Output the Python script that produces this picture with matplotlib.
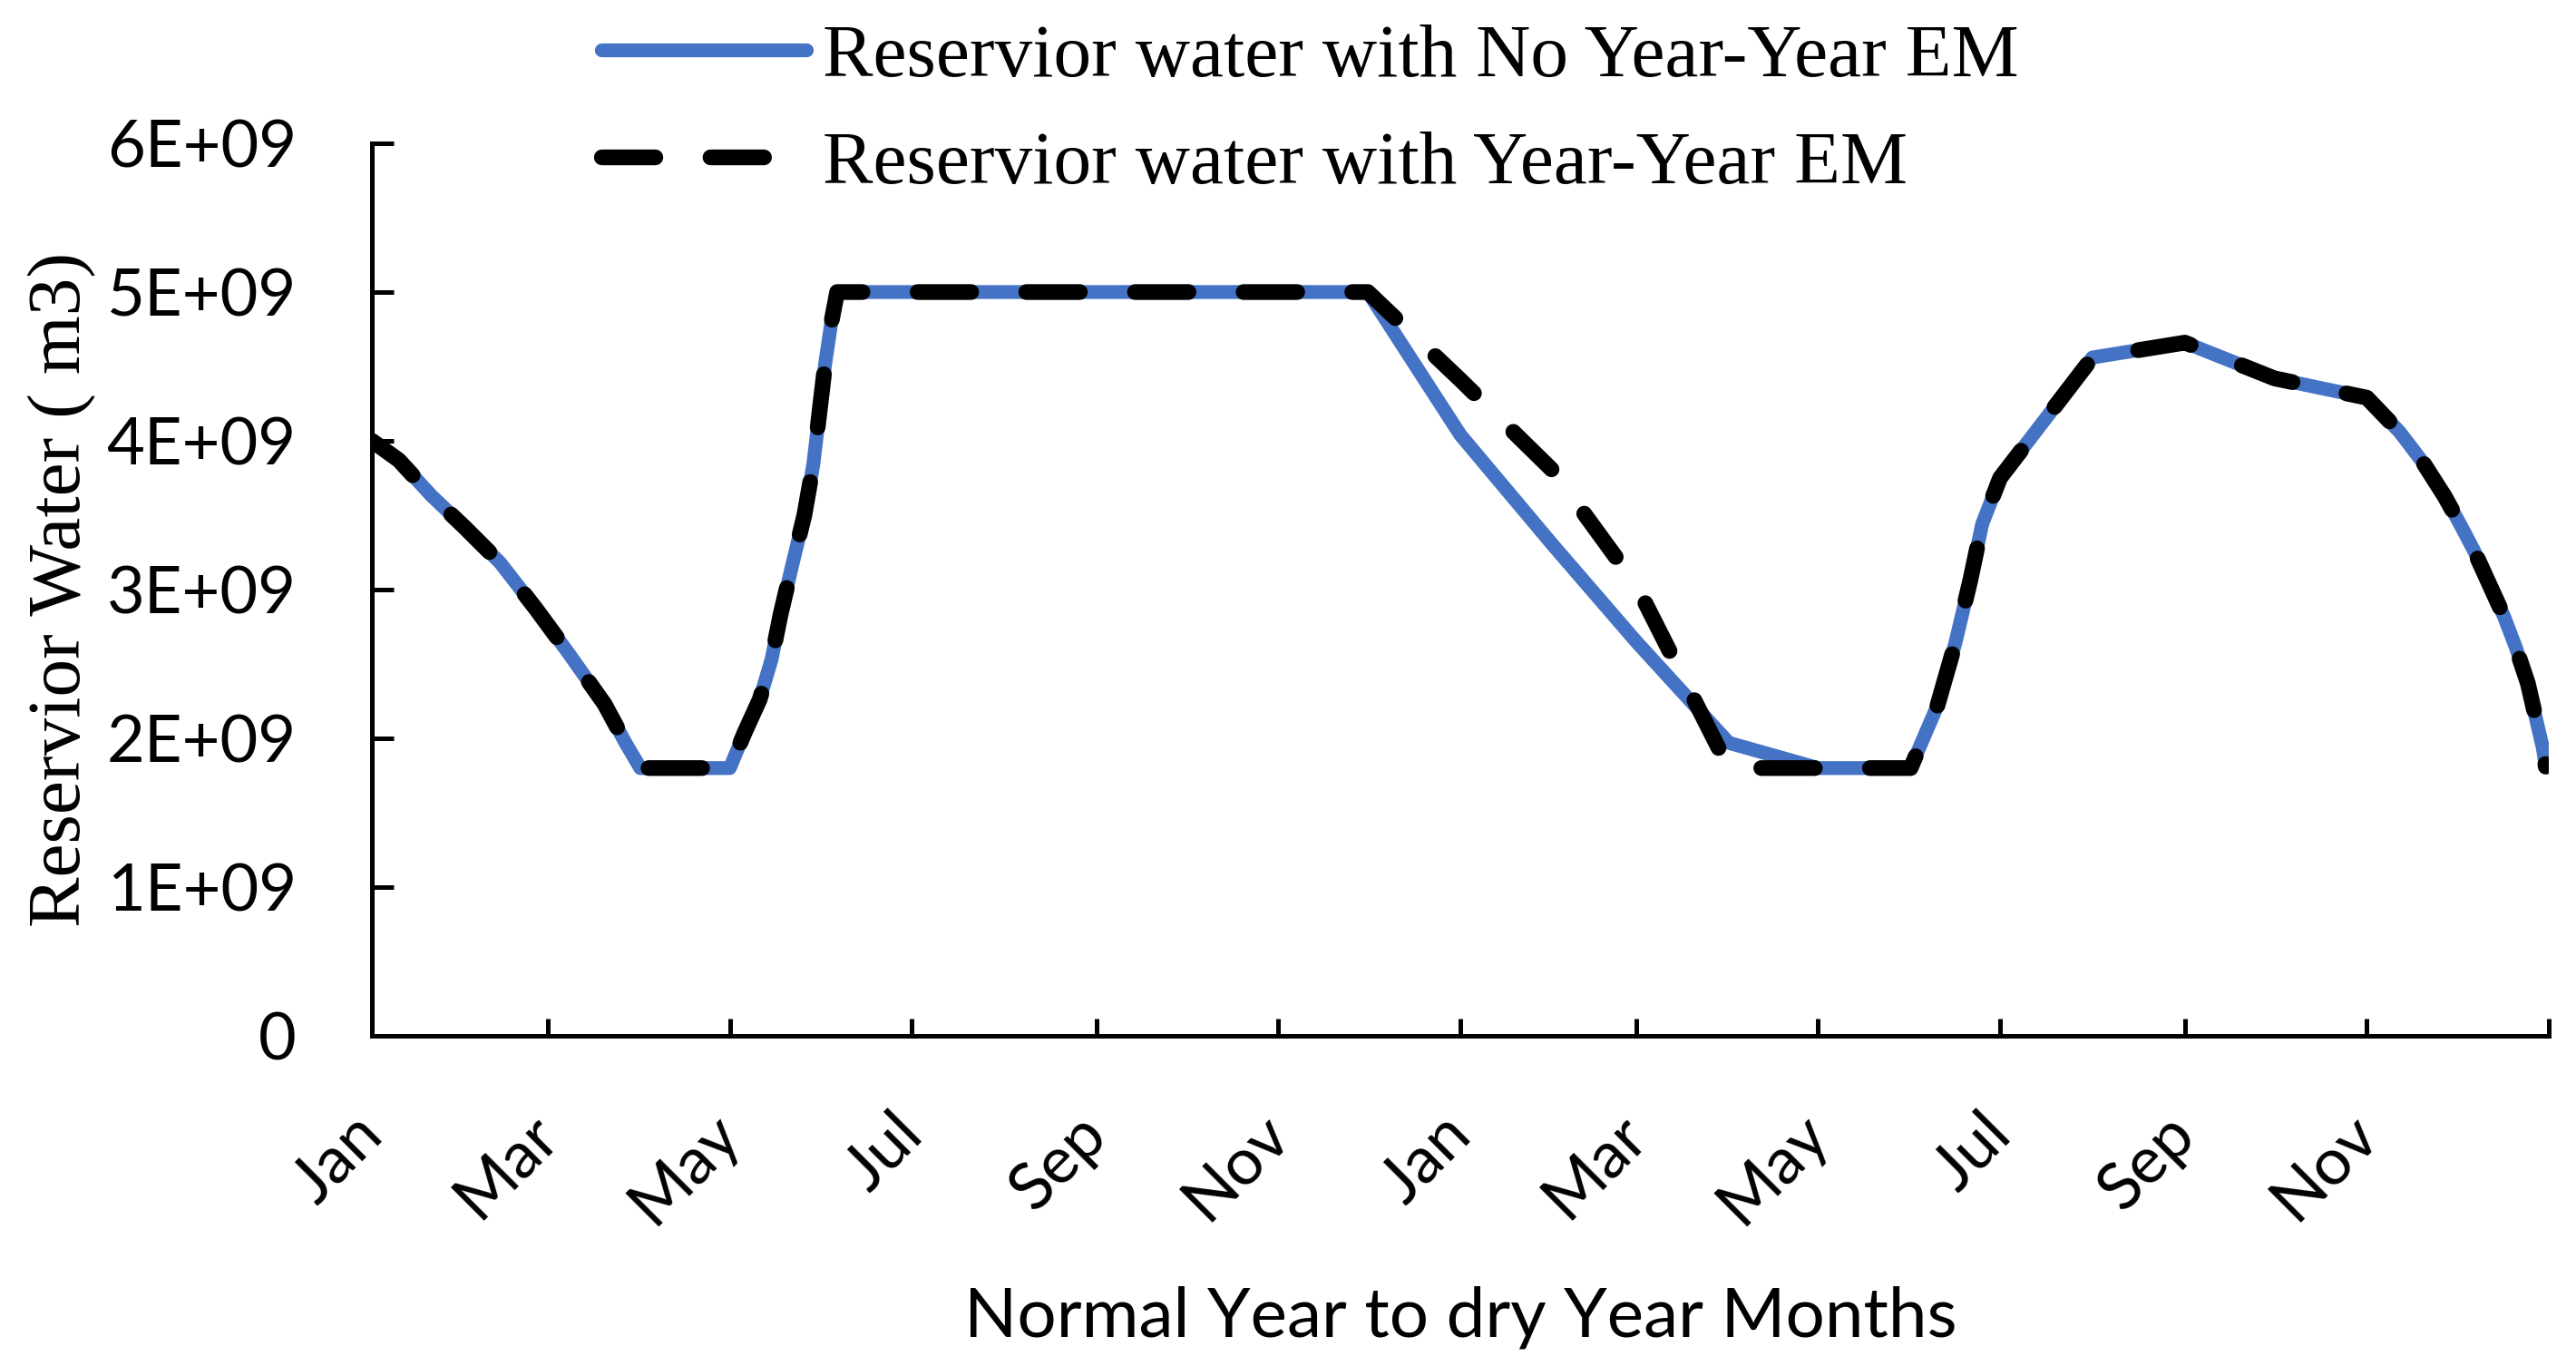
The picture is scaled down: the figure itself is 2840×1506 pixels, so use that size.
import matplotlib
matplotlib.use('Agg')
import matplotlib.pyplot as plt
import matplotlib.dates as mdates
import matplotlib.ticker as mticker
import pandas as pd

# reservoir storage without year-to-year EM (m3)
no_em_dates = ['2001-01-01', '2001-01-10', '2001-01-21', '2001-02-01', '2001-02-13',
               '2001-02-25', '2001-03-08', '2001-03-20', '2001-03-27', '2001-04-01',
               '2001-05-01', '2001-05-06', '2001-05-11', '2001-05-15', '2001-05-18',
               '2001-05-22', '2001-05-26', '2001-05-29', '2001-05-31', '2001-06-02',
               '2001-06-04', '2001-06-06', '2001-12-01', '2002-01-01', '2002-02-01',
               '2002-03-01', '2002-04-01', '2002-05-01', '2002-06-01', '2002-06-10',
               '2002-06-16', '2002-06-21', '2002-06-25', '2002-07-01', '2002-08-01',
               '2002-09-01', '2002-10-01', '2002-11-01', '2002-11-12', '2002-11-20',
               '2002-11-27', '2002-12-02', '2002-12-07', '2002-12-12', '2002-12-17',
               '2002-12-21', '2002-12-25', '2002-12-28', '2002-12-30', '2002-12-31']
no_em_water = [4.00, 3.87, 3.63, 3.42, 3.18,
               2.87, 2.57, 2.23, 1.97, 1.80,
               1.80, 2.04, 2.26, 2.53, 2.83,
               3.17, 3.50, 3.84, 4.18, 4.52,
               4.79, 5.00, 5.00, 4.04, 3.30,
               2.65, 1.97, 1.80, 1.80, 2.22,
               2.64, 3.06, 3.44, 3.75, 4.56,
               4.66, 4.42, 4.29, 4.06, 3.85,
               3.63, 3.45, 3.26, 3.04, 2.82,
               2.61, 2.37, 2.11, 1.94, 1.81]

# reservoir storage with year-to-year EM (m3)
em_dates = ['2001-01-01', '2001-01-10', '2001-01-21', '2001-02-01', '2001-02-13',
            '2001-02-25', '2001-03-08', '2001-03-20', '2001-03-27', '2001-04-01',
            '2001-05-01', '2001-05-06', '2001-05-11', '2001-05-15', '2001-05-18',
            '2001-05-22', '2001-05-26', '2001-05-29', '2001-05-31', '2001-06-02',
            '2001-06-04', '2001-06-06', '2001-12-01', '2002-01-01', '2002-02-01',
            '2002-03-01', '2002-04-01', '2002-06-01', '2002-06-10',
            '2002-06-16', '2002-06-21', '2002-06-25', '2002-07-01', '2002-08-01',
            '2002-09-01', '2002-10-01', '2002-11-01', '2002-11-12', '2002-11-20',
            '2002-11-27', '2002-12-02', '2002-12-07', '2002-12-12', '2002-12-17',
            '2002-12-21', '2002-12-25', '2002-12-28', '2002-12-30', '2002-12-31']
em_water = [4.00, 3.87, 3.63, 3.42, 3.18,
            2.87, 2.57, 2.23, 1.97, 1.80,
            1.80, 2.04, 2.26, 2.53, 2.83,
            3.17, 3.50, 3.84, 4.18, 4.52,
            4.79, 5.00, 5.00, 4.41, 3.80,
            3.03, 1.80, 1.80, 2.22,
            2.64, 3.06, 3.44, 3.75, 4.56,
            4.66, 4.42, 4.29, 4.06, 3.85,
            3.63, 3.45, 3.26, 3.04, 2.82,
            2.61, 2.37, 2.11, 1.94, 1.81]

labels = ['Reservior water with No Year-Year EM', 'Reservior water with Year-Year EM']

serif = 'Liberation Serif'
sans = 'Lato'

fig = plt.figure(figsize=(28.4, 15.06), dpi=100)
ax = fig.add_axes([0.1444, 0.2417, 0.845, 0.6534])

x1 = pd.to_datetime(no_em_dates)
x2 = pd.to_datetime(em_dates)
y1 = [v * 1e9 for v in no_em_water]
y2 = [v * 1e9 for v in em_water]

ax.plot(x1, y1, color='#4472C4', lw=11, solid_capstyle='round',
        solid_joinstyle='round', label=labels[0], zorder=2)
ax.plot(x2, y2, color='black', lw=12.5, ls=(0, (3.4, 3.5)), dash_capstyle='round',
        dash_joinstyle='round', label=labels[1], zorder=3)

ax.set_xlim(pd.Timestamp('2001-01-01'), pd.Timestamp('2003-01-01'))
ax.set_ylim(0, 6e9)
ax.set_yticks([i * 1e9 for i in range(7)])
ax.yaxis.set_major_formatter(mticker.FuncFormatter(
    lambda v, p: '0' if v == 0 else '%.0E' % v))

ax.xaxis.set_major_locator(mdates.MonthLocator(bymonth=[1, 3, 5, 7, 9, 11]))
ax.xaxis.set_major_formatter(mticker.FuncFormatter(
    lambda v, p: '' if mdates.num2date(v).year > 2002 else mdates.num2date(v).strftime('%b')))

for s in ['top', 'right']:
    ax.spines[s].set_visible(False)
for s in ['left', 'bottom']:
    ax.spines[s].set_linewidth(3.6)

ax.tick_params(axis='y', direction='in', length=17, width=3.6, pad=60,
               labelsize=52)
ax.tick_params(axis='x', direction='in', length=14, width=3.6, pad=70,
               labelsize=52)
for lab in ax.get_yticklabels():
    lab.set_fontfamily(sans)
for lab in ax.get_xticklabels():
    lab.set_fontfamily(sans)
    lab.set_rotation(45)
    lab.set_ha('right')
    lab.set_va('center')
    lab.set_rotation_mode('anchor')

ax.set_ylabel('Reservior Water ( m3)', fontsize=60, fontfamily=serif, labelpad=8)
ax.set_xlabel('Normal Year to dry Year Months', fontsize=55, fontfamily=sans,
              labelpad=40)

leg = ax.legend(loc='upper left', bbox_to_anchor=(663 / 2840, 1 - 26 / 1506),
                bbox_transform=fig.transFigure, frameon=False,
                prop={'family': serif, 'size': 60}, handlelength=2.71,
                handletextpad=0.22, borderpad=0, borderaxespad=0,
                labelspacing=0.5)

fig.savefig('out.png', dpi=100)
